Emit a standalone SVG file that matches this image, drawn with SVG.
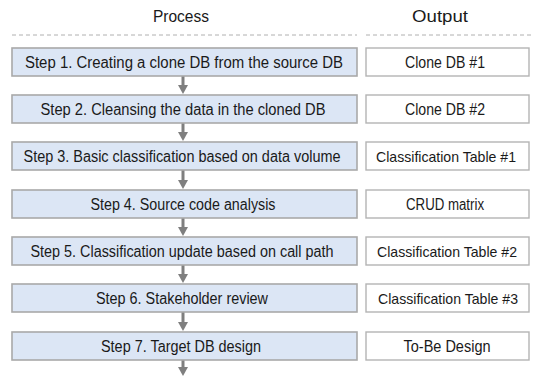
<svg xmlns="http://www.w3.org/2000/svg" width="533" height="378" viewBox="0 0 533 378">
  <style>
    text { font-family: "Liberation Sans", Arial, sans-serif; font-size: 16px; fill: #1a1a1a; text-anchor: middle; }
    .hdr { font-size: 17px; }
    .cls { font-size: 15px; }
    .step { fill: #dce6f5; stroke: #a9a9a9; stroke-width: 1.6; }
    .out { fill: #ffffff; stroke: #b4b4b4; stroke-width: 1.4; }
    .sep { stroke: #b0b0b0; stroke-width: 1; stroke-dasharray: 4 3; fill: none; }
    .shaft { stroke: #7f7f7f; stroke-width: 3; fill: none; }
    .head { fill: #7f7f7f; }
  </style>

  <!-- column headers -->
  <g id="headers">
    <text class="hdr" x="181" y="22" textLength="56" lengthAdjust="spacingAndGlyphs">Process</text>
    <text class="hdr" x="440" y="22" textLength="56" lengthAdjust="spacingAndGlyphs">Output</text>
    <line class="sep" x1="12" y1="35" x2="357" y2="35"/>
    <line class="sep" x1="366" y1="35" x2="533" y2="35"/>
  </g>

  <!-- flow arrows between steps -->
  <g id="connectors">
    <line class="shaft" x1="183" y1="76" x2="183" y2="86"/>
    <polygon class="head" points="178,85 188,85 183,94"/>
    <line class="shaft" x1="183" y1="123" x2="183" y2="133"/>
    <polygon class="head" points="178,132 188,132 183,141"/>
    <line class="shaft" x1="183" y1="170" x2="183" y2="181"/>
    <polygon class="head" points="178,180 188,180 183,189"/>
    <line class="shaft" x1="183" y1="218" x2="183" y2="228"/>
    <polygon class="head" points="178,227 188,227 183,236"/>
    <line class="shaft" x1="183" y1="265" x2="183" y2="275"/>
    <polygon class="head" points="178,274 188,274 183,283"/>
    <line class="shaft" x1="183" y1="312" x2="183" y2="323"/>
    <polygon class="head" points="178,322 188,322 183,331"/>
    <line class="shaft" x1="183" y1="360" x2="183" y2="368"/>
    <polygon class="head" points="178,367 188,367 183,376"/>
  </g>

  <g id="step1">
    <rect class="step" x="12" y="48" width="345" height="28"/>
    <text x="184" y="68" textLength="318" lengthAdjust="spacingAndGlyphs">Step 1. Creating a clone DB from the source DB</text>
  </g>
  <g id="out1">
    <rect class="out" x="366" y="48" width="163" height="28"/>
    <text x="445" y="68" textLength="80" lengthAdjust="spacingAndGlyphs">Clone DB #1</text>
  </g>

  <g id="step2">
    <rect class="step" x="12" y="95" width="345" height="28"/>
    <text x="183" y="115" textLength="285" lengthAdjust="spacingAndGlyphs">Step 2. Cleansing the data in the cloned DB</text>
  </g>
  <g id="out2">
    <rect class="out" x="366" y="95" width="163" height="28"/>
    <text x="445" y="115" textLength="80" lengthAdjust="spacingAndGlyphs">Clone DB #2</text>
  </g>

  <g id="step3">
    <rect class="step" x="12" y="142" width="345" height="28"/>
    <text x="182" y="162" textLength="317" lengthAdjust="spacingAndGlyphs">Step 3. Basic classification based on data volume</text>
  </g>
  <g id="out3">
    <rect class="out" x="366" y="142" width="163" height="28"/>
    <text class="cls" x="446" y="162" textLength="140" lengthAdjust="spacingAndGlyphs">Classification Table #1</text>
  </g>

  <g id="step4">
    <rect class="step" x="12" y="190" width="345" height="28"/>
    <text x="183" y="210" textLength="185" lengthAdjust="spacingAndGlyphs">Step 4. Source code analysis</text>
  </g>
  <g id="out4">
    <rect class="out" x="366" y="190" width="163" height="28"/>
    <text x="445" y="210" textLength="78" lengthAdjust="spacingAndGlyphs">CRUD matrix</text>
  </g>

  <g id="step5">
    <rect class="step" x="12" y="237" width="345" height="28"/>
    <text x="182" y="257" textLength="303" lengthAdjust="spacingAndGlyphs">Step 5. Classification update based on call path</text>
  </g>
  <g id="out5">
    <rect class="out" x="366" y="237" width="163" height="28"/>
    <text class="cls" x="447" y="257" textLength="140" lengthAdjust="spacingAndGlyphs">Classification Table #2</text>
  </g>

  <g id="step6">
    <rect class="step" x="12" y="284" width="345" height="28"/>
    <text x="182" y="304" textLength="172" lengthAdjust="spacingAndGlyphs">Step 6. Stakeholder review</text>
  </g>
  <g id="out6">
    <rect class="out" x="366" y="284" width="163" height="28"/>
    <text class="cls" x="448" y="304" textLength="140" lengthAdjust="spacingAndGlyphs">Classification Table #3</text>
  </g>

  <g id="step7">
    <rect class="step" x="12" y="332" width="345" height="28"/>
    <text x="181" y="352" textLength="160" lengthAdjust="spacingAndGlyphs">Step 7. Target DB design</text>
  </g>
  <g id="out7">
    <rect class="out" x="366" y="332" width="163" height="28"/>
    <text x="447" y="352" textLength="87" lengthAdjust="spacingAndGlyphs">To-Be Design</text>
  </g>
</svg>
